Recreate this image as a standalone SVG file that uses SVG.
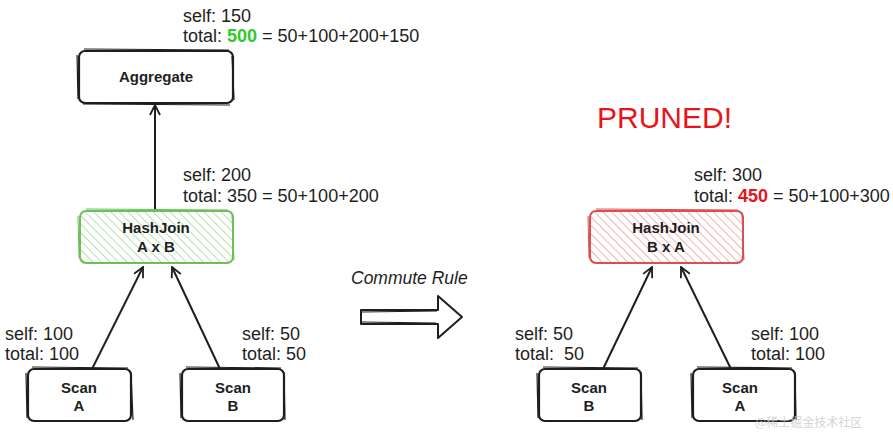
<svg xmlns="http://www.w3.org/2000/svg" width="893" height="432" viewBox="0 0 893 432">
<style>
.box{fill:#fff;stroke:#1e1e1e;stroke-width:2.2;}
.box2{fill:none;stroke:#1e1e1e;stroke-width:1.2;}
.lbl{font-family:"Liberation Sans",Arial,sans-serif;font-size:15px;font-weight:bold;fill:#1e1e1e;text-anchor:middle;}
.ann{font-family:"Liberation Sans",Arial,sans-serif;font-size:18px;fill:#1e1e1e;}
.conn{stroke:#1e1e1e;stroke-width:2;fill:none;marker-end:url(#ah);}
</style>
<defs>
<marker id="ah" viewBox="0 0 12 12" refX="11" refY="6" markerWidth="12" markerHeight="12" markerUnits="userSpaceOnUse" orient="auto">
<path d="M1,1 L11,6 L1,11" fill="none" stroke="#1e1e1e" stroke-width="1.8"/>
</marker>
<pattern id="hg" width="6" height="6" patternUnits="userSpaceOnUse" patternTransform="rotate(-45)">
<rect width="6" height="6" fill="#fff"/>
<line x1="0" y1="0" x2="0" y2="6" stroke="#a3da98" stroke-width="1.6"/>
</pattern>
<pattern id="hr" width="6" height="6" patternUnits="userSpaceOnUse" patternTransform="rotate(-45)">
<rect width="6" height="6" fill="#fff"/>
<line x1="0" y1="0" x2="0" y2="6" stroke="#f0a0a0" stroke-width="1.6"/>
</pattern>
</defs>
<rect width="893" height="432" fill="#fff"/>

<g id="connectors">
<line class="conn" x1="155" y1="210" x2="155" y2="105"/>
<line class="conn" x1="92" y1="369" x2="143" y2="267"/>
<line class="conn" x1="220" y1="369" x2="172" y2="267"/>
<line class="conn" x1="603" y1="369" x2="652" y2="267"/>
<line class="conn" x1="731" y1="369" x2="681" y2="267"/>
</g>

<g id="aggregate">
<rect class="box" x="79" y="51" width="154" height="52" rx="6"/>
<path class="box2" d="M84,49 L229,50 M232,56 L234,100 M77,55 L78,99 M83,104 L230,105"/>
<text class="lbl" x="156" y="82">Aggregate</text>
</g>
<g id="agg-notes">
<text class="ann" x="183" y="22">self: 150</text>
<text class="ann" x="183" y="42">total: <tspan font-weight="bold" fill="#2fc92a">500</tspan> = 50+100+200+150</text>
</g>

<g id="hashjoin-ab">
<rect x="80" y="211" width="153" height="52" rx="6" fill="url(#hg)" stroke="#6cbf5a" stroke-width="2"/>
<path d="M86,209 L228,210 M78,216 L79,258 M232,215 L234,260" fill="none" stroke="#6cbf5a" stroke-width="1"/>
<text class="lbl" x="156" y="233">HashJoin</text>
<text class="lbl" x="156" y="252">A x B</text>
</g>
<g id="hj-ab-notes">
<text class="ann" x="183" y="181">self: 200</text>
<text class="ann" x="183" y="202">total: 350 = 50+100+200</text>
</g>

<g id="scan-a-left">
<rect class="box" x="28" y="369" width="103" height="52" rx="6"/>
<path class="box2" d="M32,367 L128,368 M26,373 L27,418 M131,372 L133,420"/>
<text class="lbl" x="79" y="393">Scan</text>
<text class="lbl" x="79" y="411">A</text>
</g>
<g id="scan-a-left-notes">
<text class="ann" x="5" y="340">self: 100</text>
<text class="ann" x="5" y="360">total: 100</text>
</g>

<g id="scan-b-left">
<rect class="box" x="182" y="369" width="102" height="52" rx="6"/>
<path class="box2" d="M186,367 L281,368 M180,373 L181,418 M284,372 L285,420"/>
<text class="lbl" x="233" y="393">Scan</text>
<text class="lbl" x="233" y="411">B</text>
</g>
<g id="scan-b-left-notes">
<text class="ann" x="242" y="340">self: 50</text>
<text class="ann" x="242" y="360">total: 50</text>
</g>

<g id="commute">
<text x="351" y="284" font-family="'Liberation Sans',Arial,sans-serif" font-size="17.5px" font-style="italic" fill="#1e1e1e">Commute Rule</text>
<path d="M361,310 L438,310 L438,296 L462,317 L438,338 L438,324 L361,324 Z" fill="#fff" stroke="#1e1e1e" stroke-width="2" stroke-linejoin="round"/>
<path d="M362,312 L437,311 M362,322 L436,323" fill="none" stroke="#1e1e1e" stroke-width="1"/>
</g>

<g id="pruned">
<text x="597" y="128" font-family="'Liberation Sans',Arial,sans-serif" font-size="30px" fill="#e8141b">PRUNED!</text>
</g>

<g id="hashjoin-ba">
<rect x="590" y="211" width="153" height="52" rx="6" fill="url(#hr)" stroke="#dd4f4f" stroke-width="2"/>
<path d="M596,209 L738,210 M588,216 L589,258 M742,215 L744,260" fill="none" stroke="#dd4f4f" stroke-width="1"/>
<text class="lbl" x="666" y="233">HashJoin</text>
<text class="lbl" x="666" y="252">B x A</text>
</g>
<g id="hj-ba-notes">
<text class="ann" x="694" y="181">self: 300</text>
<text class="ann" x="694" y="202">total: <tspan font-weight="bold" fill="#e8141b">450</tspan> = 50+100+300</text>
</g>

<g id="scan-b-right">
<rect class="box" x="539" y="369" width="102" height="52" rx="6"/>
<path class="box2" d="M543,367 L638,368 M537,373 L538,418 M641,372 L642,420"/>
<text class="lbl" x="589" y="393">Scan</text>
<text class="lbl" x="589" y="411">B</text>
</g>
<g id="scan-b-right-notes">
<text class="ann" x="515" y="340">self: 50</text>
<text class="ann" x="515" y="360">total:&#160; 50</text>
</g>

<g id="scan-a-right">
<rect class="box" x="693" y="369" width="102" height="52" rx="6"/>
<path class="box2" d="M697,367 L792,368 M691,373 L692,418 M795,372 L796,420"/>
<text class="lbl" x="740" y="393">Scan</text>
<text class="lbl" x="740" y="411">A</text>
</g>
<g id="scan-a-right-notes">
<text class="ann" x="751" y="340">self: 100</text>
<text class="ann" x="751" y="360">total: 100</text>
</g>

<text x="755" y="427" font-family="'Noto Sans CJK SC','Liberation Sans',sans-serif" font-size="12px" fill="#c8c8c8" fill-opacity="0.8">@稀土掘金技术社区</text>
</svg>
